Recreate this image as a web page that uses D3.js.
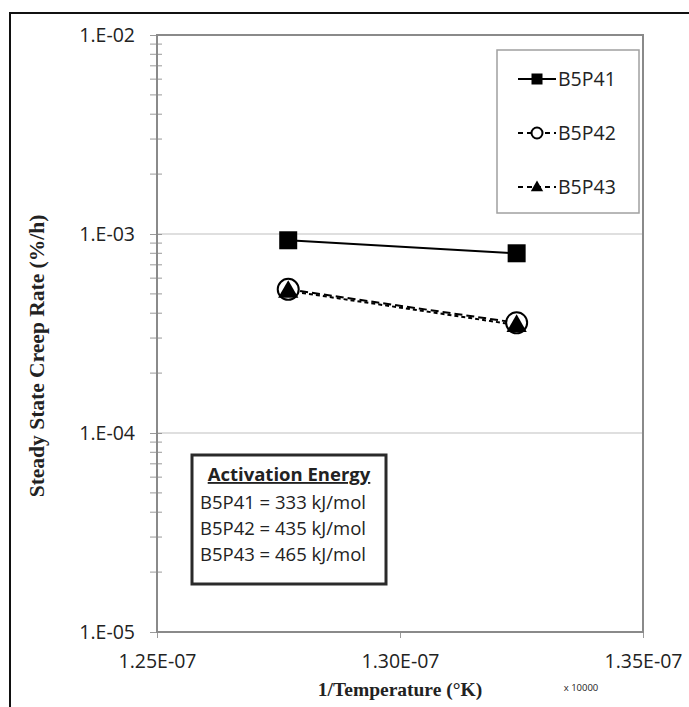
<!DOCTYPE html>
<html>
<head>
<meta charset="utf-8">
<script src="https://cdn.jsdelivr.net/npm/d3@7"></script>
<style>
  body { margin: 0; background: #fff; }
  svg text { font-family: "Open Sans", sans-serif; fill: #222; }
</style>
</head>
<body>
<div id="chart"></div>
<script>
// donnees
var invTemp = [1.277e-7, 1.324e-7];
var seriesNames = ["B5P41", "B5P42", "B5P43"];
var rateB5P41 = [9.3e-4, 8.0e-4];
var rateB5P42 = [5.27e-4, 3.58e-4];
var rateB5P43 = [5.18e-4, 3.49e-4];
var yTicks = [1e-5, 1e-4, 1e-3, 1e-2];
var yTickLabels = ["1.E-05", "1.E-04", "1.E-03", "1.E-02"];
var xTicks = [1.25e-7, 1.30e-7, 1.35e-7];
var xTickLabels = ["1.25E-07", "1.30E-07", "1.35E-07"];
var energyLines = ["B5P41 = 333 kJ/mol", "B5P42 = 435 kJ/mol", "B5P43 = 465 kJ/mol"];

var W = 689, H = 707;
var pLeft = 157, pRight = 643, pTop = 35, pBottom = 632;

var svg = d3.select('#chart').append('svg').attr('width', W).attr('height', H);

// cadre exterieur (haut + gauche seulement)
svg.append('line').attr('x1', 10).attr('y1', 13).attr('x2', W).attr('y2', 13)
   .style('stroke', '#111').style('stroke-width', 2);
svg.append('line').attr('x1', 10).attr('y1', 12).attr('x2', 10).attr('y2', H)
   .style('stroke', '#111').style('stroke-width', 2);

var x = d3.scaleLinear().domain([1.25e-7, 1.35e-7]).range([pLeft, pRight]);
var y = d3.scaleLog().domain([1e-5, 1e-2]).range([pBottom, pTop]);

// grille horizontale
svg.selectAll('.grid').data([1e-4, 1e-3]).enter().append('line')
   .attr('class', 'grid')
   .attr('x1', pLeft).attr('x2', pRight)
   .attr('y1', function(d){ return y(d); }).attr('y2', function(d){ return y(d); })
   .style('stroke', '#d4d4d4').style('stroke-width', 1.5);

// graduations secondaires (log)
var minor = [];
for (var e = -5; e < -2; e++) {
    for (var m = 2; m <= 9; m++) minor.push(m * Math.pow(10, e));
}
svg.selectAll('.minor').data(minor).enter().append('line')
   .attr('class', 'minor')
   .attr('x1', pLeft - 7).attr('x2', pLeft + 5)
   .attr('y1', function(d){ return y(d); }).attr('y2', function(d){ return y(d); })
   .style('stroke', '#9a9a9a').style('stroke-width', 1);

// axe Y
var gy = svg.append('g').attr('transform', 'translate(' + pLeft + ',0)')
   .call(d3.axisLeft(y).tickValues(yTicks)
         .tickFormat(function(d, i){ return yTickLabels[i]; })
         .tickSize(7).tickPadding(15));
gy.select('.domain').remove();
gy.selectAll('.tick line').attr('x2', -7).attr('x1', 5).style('stroke', '#9a9a9a');
gy.selectAll('.tick text').style('font-size', '19.5px').style('font-family', '"Open Sans", sans-serif').attr('fill', '#222');

// axe X
var gx = svg.append('g').attr('transform', 'translate(0,' + pBottom + ')')
   .call(d3.axisBottom(x).tickValues(xTicks)
         .tickFormat(function(d, i){ return xTickLabels[i]; })
         .tickSize(6).tickPadding(16));
gx.select('.domain').remove();
gx.selectAll('.tick line').style('stroke', '#9a9a9a');
gx.selectAll('.tick text').style('font-size', '19.5px').style('font-family', '"Open Sans", sans-serif').attr('fill', '#222');

// bordure de la zone de trace
svg.append('rect').attr('x', pLeft).attr('y', pTop)
   .attr('width', pRight - pLeft).attr('height', pBottom - pTop)
   .style('fill', 'none').style('stroke', '#8a8a8a').style('stroke-width', 2);

// titres des axes
svg.append('text')
   .attr('transform', 'translate(44,356) rotate(-90)')
   .attr('text-anchor', 'middle')
   .style('font-family', '"Liberation Serif", serif').style('font-weight', 'bold')
   .style('font-size', '21.5px')
   .text('Steady State Creep Rate (%/h)');
svg.append('text')
   .attr('x', 400).attr('y', 696)
   .attr('text-anchor', 'middle')
   .style('font-family', '"Liberation Serif", serif').style('font-weight', 'bold')
   .style('font-size', '19.5px')
   .text('1/Temperature (°K)');
svg.append('text')
   .attr('x', 581).attr('y', 691)
   .attr('text-anchor', 'middle')
   .style('font-size', '9.5px')
   .text('x 10000');

// series
var series = [
    {name: seriesNames[0], values: rateB5P41, dash: null, marker: 'square'},
    {name: seriesNames[1], values: rateB5P42, dash: '8,4', marker: 'circle'},
    {name: seriesNames[2], values: rateB5P43, dash: '4,3', marker: 'triangle'}
];

var line = d3.line()
    .x(function(d){ return x(d[0]); })
    .y(function(d){ return y(d[1]); });

function drawMarker(g, kind, cx, cy, s) {
    if (kind === 'square') {
        g.append('rect').attr('x', cx - s / 2).attr('y', cy - s / 2)
         .attr('width', s).attr('height', s).style('fill', '#000');
    } else if (kind === 'circle') {
        g.append('circle').attr('cx', cx).attr('cy', cy).attr('r', s / 2)
         .style('fill', '#fff').style('stroke', '#000').style('stroke-width', 2);
    } else {
        g.append('path')
         .attr('d', d3.symbol().type(d3.symbolTriangle).size(s * s * 0.55)())
         .attr('transform', 'translate(' + cx + ',' + (cy + s * 0.06) + ')')
         .style('fill', '#000');
    }
}

series.forEach(function(s){
    var pts = invTemp.map(function(t, i){ return [t, s.values[i]]; });
    svg.append('path').datum(pts).attr('d', line)
       .style('fill', 'none').style('stroke', '#000').style('stroke-width', 2)
       .style('stroke-dasharray', s.dash);
});
series.forEach(function(s){
    var g = svg.append('g');
    invTemp.forEach(function(t, i){
        var size = s.marker === 'square' ? 18 : (s.marker === 'circle' ? 21 : 18);
        drawMarker(g, s.marker, x(t), y(s.values[i]), size);
    });
});

// legende
var lg = svg.append('g');
lg.append('rect').attr('x', 497).attr('y', 50).attr('width', 142).attr('height', 163)
  .style('fill', '#fff').style('stroke', '#a0a0a0').style('stroke-width', 1.5);
series.forEach(function(s, i){
    var ly = 79 + i * 54;
    lg.append('line').attr('x1', 518).attr('x2', 556).attr('y1', ly).attr('y2', ly)
      .style('stroke', '#000').style('stroke-width', 2)
      .style('stroke-dasharray', s.dash ? '5,4' : null);
    drawMarker(lg, s.marker, 537, ly, 11);
    lg.append('text').attr('x', 558).attr('y', ly + 7)
      .style('font-size', '19.5px').text(s.name);
});

// encadre energie d'activation
var eb = svg.append('g');
eb.append('rect').attr('x', 192).attr('y', 455).attr('width', 194).attr('height', 129)
  .style('fill', '#fff').style('stroke', '#2a2a2a').style('stroke-width', 3);
eb.append('text').attr('x', 289).attr('y', 481).attr('text-anchor', 'middle')
  .style('font-size', '18.5px').style('font-weight', 'bold')
  .style('text-decoration', 'underline')
  .text('Activation Energy');
energyLines.forEach(function(t, i){
    eb.append('text').attr('x', 200).attr('y', 509 + i * 26)
      .style('font-size', '18.5px').text(t);
});
</script>
</body>
</html>
